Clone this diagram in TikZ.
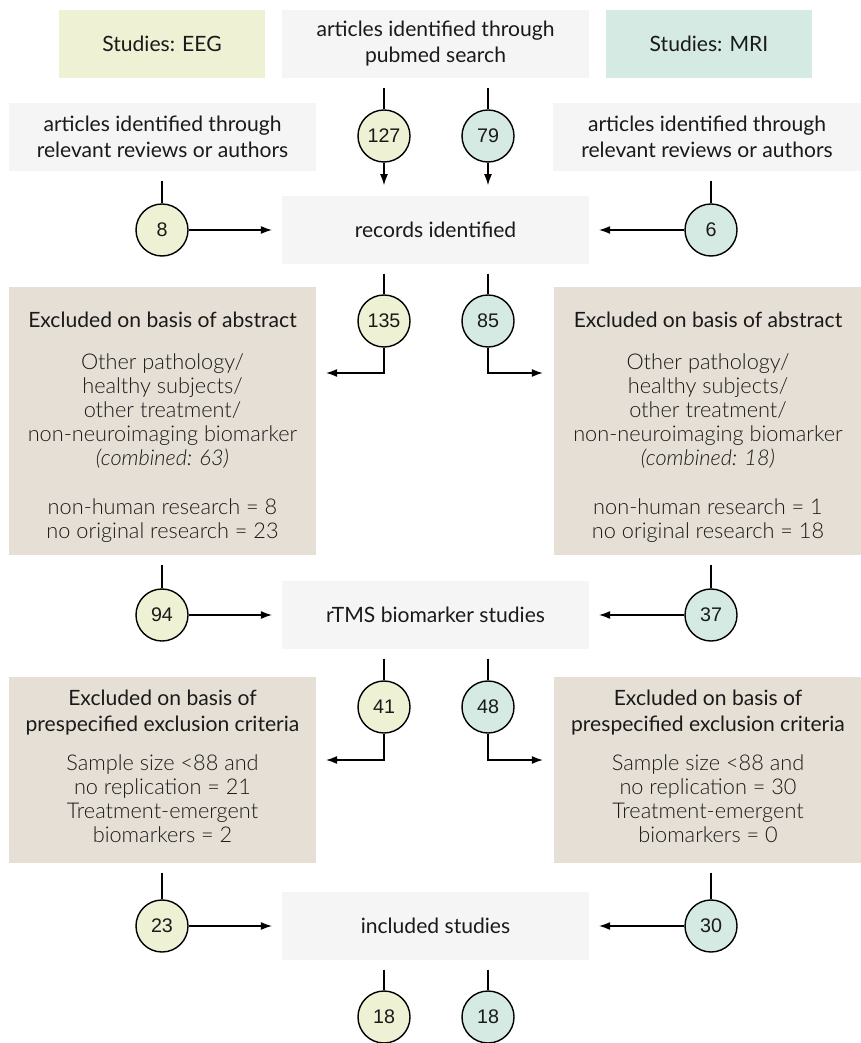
\documentclass[tikz,border=0pt]{standalone}
\usepackage{fontspec}
\setmainfont{Lato}
\newfontfamily\lightfont{Lato Light}[Scale=1.03]
\newfontfamily\numfont{Liberation Sans}
\usetikzlibrary{arrows.meta, positioning}
\definecolor{EEG_Green}{HTML}{EEF1D3}
\definecolor{MRI_Teal}{HTML}{D4EAE3}
\definecolor{Box_Grey}{HTML}{F5F5F5}
\definecolor{Excl_Sand}{HTML}{E6DFD5}
\definecolor{Ink}{HTML}{1A1A1A}

\begin{document}
\begin{tikzpicture}[x=0.025cm, y=-0.025cm, >={Latex[length=2.8mm,width=2mm]}, line width=1pt,
    greybox/.style={fill=Box_Grey, minimum width=7.675cm, minimum height=1.7cm, inner sep=0pt, align=center, text=Ink, font=\fontsize{15}{18.5}\selectfont},
    eegbox/.style={greybox, fill=EEG_Green, minimum width=5.15cm},
    mribox/.style={greybox, fill=MRI_Teal, minimum width=5.15cm},
    exclbox/.style={fill=Excl_Sand, minimum width=7.675cm, inner sep=0pt, align=center, text=Ink, font={\lightfont\fontsize{15}{17}\selectfont}},
    eegnum/.style={circle, draw, fill=EEG_Green, minimum size=1.3cm, inner sep=0pt, text=Ink, font={\numfont\fontsize{14}{16}\selectfont}},
    mrinum/.style={eegnum, fill=MRI_Teal}]
    \useasboundingbox (0,0) rectangle (860,1043);

    % Boxes
    \node[eegbox] (eeg) at (162,44) {Studies: EEG};
    \node[greybox] (pubmed) at (435.5,44) {articles identified through\\pubmed search};
    \node[mribox] (mri) at (709,44) {Studies: MRI};
    \node[greybox] (revL) at (162.5,137) {articles identified through\\relevant reviews or authors};
    \node[greybox] (revR) at (707,137) {articles identified through\\relevant reviews or authors};
    \node[greybox] (records) at (435.5,230) {records identified};
    \node[exclbox, minimum height=6.7cm] (exclL) at (162.5,421) {\rule{0pt}{20pt}{\normalfont Excluded on basis of abstract}\\[13pt]
        Other pathology/\\healthy subjects/\\other treatment/\\non-neuroimaging biomarker\\{\itshape (combined: 63)}\\[18pt]
        non-human research = 8\\no original research = 23};
    \node[exclbox, minimum height=6.7cm] (exclR) at (708,421) {\rule{0pt}{20pt}{\normalfont Excluded on basis of abstract}\\[13pt]
        Other pathology/\\healthy subjects/\\other treatment/\\non-neuroimaging biomarker\\{\itshape (combined: 18)}\\[18pt]
        non-human research = 1\\no original research = 18};
    \node[greybox] (rtms) at (435.5,615) {rTMS biomarker studies};
    \node[exclbox, minimum height=4.65cm] (critL) at (162.5,770) {{\normalfont Excluded on basis of}\\[1.5pt]{\normalfont prespecified exclusion criteria}\\[11pt]
        Sample size <88 and\\no replication = 21\\Treatment-emergent\\biomarkers = 2\rule[-6pt]{0pt}{1pt}};
    \node[exclbox, minimum height=4.65cm] (critR) at (708,770) {{\normalfont Excluded on basis of}\\[1.5pt]{\normalfont prespecified exclusion criteria}\\[11pt]
        Sample size <88 and\\no replication = 30\\Treatment-emergent\\biomarkers = 0\rule[-6pt]{0pt}{1pt}};
    \node[greybox] (included) at (435.5,926) {included studies};

    % Counts
    \node[eegnum] (c127) at (384,136) {127};
    \node[mrinum] (c79) at (488,136) {79};
    \node[eegnum] (c8) at (162,230) {8};
    \node[mrinum] (c6) at (711,230) {6};
    \node[eegnum] (c135) at (384,321) {135};
    \node[mrinum] (c85) at (488,321) {85};
    \node[eegnum] (c94) at (162,615) {94};
    \node[mrinum] (c37) at (711,615) {37};
    \node[eegnum] (c41) at (384,707) {41};
    \node[mrinum] (c48) at (488,707) {48};
    \node[eegnum] (c23) at (162,926) {23};
    \node[mrinum] (c30) at (711,926) {30};
    \node[eegnum] (c18a) at (384,1017) {18};
    \node[mrinum] (c18b) at (488,1017) {18};

    \coordinate (t135) at (384,373);
    \coordinate (t85) at (488,373);
    \coordinate (t41) at (384,760);
    \coordinate (t48) at (488,760);

    % Connectors
    \foreach \n in {c127, c79} {
        \draw[shorten <=2.2mm] (\n |- pubmed.south) -- (\n);
        \draw[->, shorten >=2.5mm] (\n) -- (\n |- records.north);
    }
    \draw[shorten <=2.2mm] (c8 |- revL.south) -- (c8);
    \draw[->, shorten >=2.3mm] (c8) -- (records);
    \draw[shorten <=2.2mm] (c6 |- revR.south) -- (c6);
    \draw[->, shorten >=2.3mm] (c6) -- (records);

    \draw[shorten <=2.2mm] (c135 |- records.south) -- (c135);
    \draw[shorten <=2.2mm] (c85 |- records.south) -- (c85);
    \draw[->, shorten >=2.3mm] (c135) -- (t135) -- (t135 -| exclL.east);
    \draw[->, shorten >=2.7mm] (c85) -- (t85) -- (t85 -| exclR.west);

    \draw[shorten <=2.2mm] (c94 |- exclL.south) -- (c94);
    \draw[->, shorten >=2.3mm] (c94) -- (rtms);
    \draw[shorten <=2.2mm] (c37 |- exclR.south) -- (c37);
    \draw[->, shorten >=2.3mm] (c37) -- (rtms);

    \draw[shorten <=2.2mm] (c41 |- rtms.south) -- (c41);
    \draw[shorten <=2.2mm] (c48 |- rtms.south) -- (c48);
    \draw[->, shorten >=2.3mm] (c41) -- (t41) -- (t41 -| critL.east);
    \draw[->, shorten >=2.7mm] (c48) -- (t48) -- (t48 -| critR.west);

    \draw[shorten <=2.2mm] (c23 |- critL.south) -- (c23);
    \draw[->, shorten >=2.3mm] (c23) -- (included);
    \draw[shorten <=2.2mm] (c30 |- critR.south) -- (c30);
    \draw[->, shorten >=2.3mm] (c30) -- (included);

    \draw[shorten <=2.2mm] (c18a |- included.south) -- (c18a);
    \draw[shorten <=2.2mm] (c18b |- included.south) -- (c18b);
\end{tikzpicture}
\end{document}
